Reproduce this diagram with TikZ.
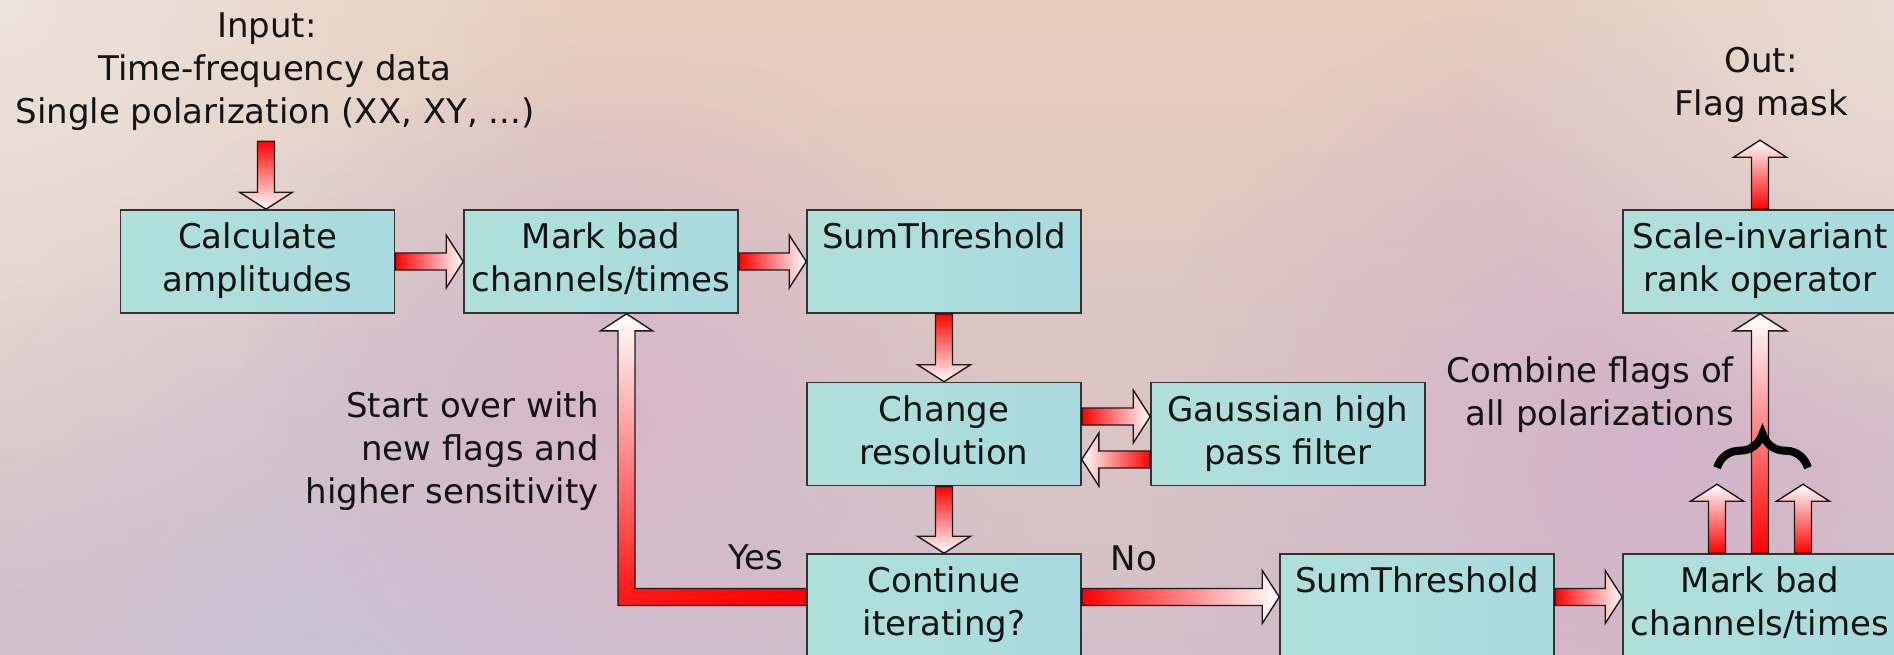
\documentclass[tikz,border=0pt]{standalone}
\usepackage{fontspec}
\setmainfont{DejaVu Sans}
\usetikzlibrary{calc,decorations.pathreplacing,fadings}

\definecolor{bgTop}{HTML}{E8CEBC}
\definecolor{bgBot}{HTML}{D3BFC8}
\definecolor{bgLight}{HTML}{ECE3DC}
\definecolor{bgLav}{HTML}{C9C3D9}
\definecolor{bgMauve}{HTML}{D3B3CA}
\definecolor{bgMauveB}{HTML}{D8B7C7}
\definecolor{bgLightB}{HTML}{EADCD2}
\definecolor{boxL}{HTML}{AFE0DA}
\definecolor{boxR}{HTML}{A9DBE0}
\definecolor{boxline}{HTML}{333333}
\definecolor{arrline}{HTML}{1A1A1A}
\definecolor{ink}{HTML}{141414}
\colorlet{redcorner}{red!90!white}

\tikzfading[name=blobfade, inner color=transparent!0, outer color=transparent!100]

\newcommand\fatarrow[2]{%
  \path let \p1=(#1), \p2=(#2) in
    \pgfextra{\pgfmathsetmacro\faang{atan2(\y2-\y1,\x2-\x1)-90}\global\let\faang\faang};
  \coordinate (fa-h) at ($(#2)!17pt!(#1)$);
  \shade[fatshape, shading angle=\faang]
    ($(#1)!8.5pt!90:(#2)$) -- ($(fa-h)!8.5pt!90:(#2)$) -- ($(fa-h)!26.5pt!90:(#2)$) -- (#2)
    -- ($(fa-h)!26.5pt!-90:(#2)$) -- ($(fa-h)!8.5pt!-90:(#2)$) -- ($(#1)!8.5pt!-90:(#2)$) -- cycle;
}

\begin{document}
\begin{tikzpicture}[x=1pt,y=1pt,
  font=\fontsize{34}{43}\selectfont,
  box/.style={draw=boxline, line width=1.6pt, left color=boxL, right color=boxR,
    minimum width=274pt, minimum height=103pt, inner sep=0pt, align=center, text=ink},
  lbl/.style={text=ink, inner sep=0pt},
  fatshape/.style={draw=arrline, line width=1.4pt, line join=miter, top color=white, bottom color=red}]

\useasboundingbox (0,0) rectangle (1894,-654);
\clip (0,0) rectangle (1894,-654);

% background
\shade[top color=bgTop, bottom color=bgBot] (0,0) rectangle (1894,-654);
\fill[bgLight, path fading=blobfade] (0,0) circle (600);
\fill[bgLav, path fading=blobfade] (450,-700) circle (600);
\fill[bgMauve, path fading=blobfade] (1650,-450) circle (500);
\fill[bgMauveB, path fading=blobfade] (620,-420) circle (380);
\fill[bgLightB, path fading=blobfade] (1900,-20) circle (450);

% boxes
\node[box] (calc)  at (257.5,-261.5) {\strut Calculate\\\strut amplitudes};
\node[box] (mark1) at (601,-261.5)   {\strut Mark bad\\\strut channels/times};
\node[box] (sum1)  at (944,-261.5)   {\strut SumThreshold\\\strut};
\node[box] (chres) at (944,-434)     {\strut Change\\\strut resolution};
\node[box] (gauss) at (1288,-434)    {\strut Gaussian high\\\strut pass filter};
\node[box] (cont)  at (944,-605.5)   {\strut Continue\\\strut iterating?};
\node[box] (sum2)  at (1417,-605.5)  {\strut SumThreshold\\\strut};
\node[box] (mark2) at (1760,-605.5)  {\strut Mark bad\\\strut channels/times};
\node[box] (sir)   at (1760,-261.5)  {\strut Scale-invariant\\\strut rank operator};

% texts
\node[lbl, align=center] (intext) at (275,-71.4)
  {\strut Input:\hspace*{16pt}\\\strut Time-frequency data\\\strut Single polarization (XX, XY, ...)};
\node[lbl, align=center] (outtext) at (1761,-85) {\strut Out:\\\strut Flag mask};
\node[lbl, align=right, anchor=east] (restart) at (599,-451.4)
  {\strut Start over with\\\strut new flags and\\\strut higher sensitivity};
\node[lbl, align=right, anchor=east] (combine) at (1734,-395)
  {\strut Combine flags of\\\strut all polarizations};
\node[lbl, anchor=base] (yes) at (755.5,-569) {Yes};
\node[lbl, anchor=base] (no) at (1134,-570) {No};

% helper coordinates
\coordinate (intail) at ($(calc.north)+(8.5,68)$);
\coordinate (inhead) at ($(calc.north)+(8.5,0)$);
\coordinate (g1a) at ($(chres.east)+(0,17.5)$);
\coordinate (g1b) at ($(gauss.west)+(0,17.5)$);
\coordinate (g2a) at ($(gauss.west)+(0,-25.5)$);
\coordinate (g2b) at ($(chres.east)+(0,-25.5)$);
\coordinate (noa) at ($(cont.east)+(0,8.5)$);
\coordinate (nob) at ($(sum2.west)+(0,8.5)$);
\coordinate (s2a) at ($(sum2.east)+(0,8.5)$);
\coordinate (s2b) at ($(mark2.west)+(0,8.5)$);
\coordinate (pla) at ($(mark2.north)+(-43,0)$);
\coordinate (plb) at ($(mark2.north)+(-43,69)$);
\coordinate (pra) at ($(mark2.north)+(43,0)$);
\coordinate (prb) at ($(mark2.north)+(43,69)$);
\coordinate (outtip) at ($(sir.north)+(0,69)$);

% straight arrows
\fatarrow{intail}{inhead}
\fatarrow{calc.east}{mark1.west}
\fatarrow{mark1.east}{sum1.west}
\fatarrow{sum1.south}{chres.north}
\fatarrow{g1a}{g1b}
\fatarrow{g2a}{g2b}
\fatarrow{chres.south}{cont.north}
\fatarrow{noa}{nob}
\fatarrow{s2a}{s2b}
\fatarrow{pla}{plb}
\fatarrow{pra}{prb}
\fatarrow{mark2.north}{sir.south}
\fatarrow{sir.north}{outtip}

% Yes elbow arrow
\coordinate (yestail) at ($(cont.west)+(0,8.5)$);
\coordinate (yestip) at ($(mark1.south)+(25.5,0)$);
\coordinate (yescorner) at (yestip |- yestail);
\begin{scope}
  \clip ($(yestail)+(0,8.5)$) -- ($(yescorner)+(8.5,8.5)$) -- ($(yestip)+(8.5,-17)$)
    -- ($(yestip)+(26,-17)$) -- (yestip) -- ($(yestip)+(-26,-17)$) -- ($(yestip)+(-8.5,-17)$)
    -- ($(yescorner)+(-8.5,-8.5)$) -- ($(yestail)+(0,-8.5)$) -- cycle;
  \shade[left color=redcorner, right color=red] ($(yescorner)+(-8.5,-8.5)$) rectangle ($(yestail)+(0,8.5)$);
  \shade[top color=white, bottom color=redcorner] ($(yescorner)+(-26,8.5)$) rectangle ($(yestip)+(26,0)$);
\end{scope}
\draw[arrline, line width=1.4pt, line join=miter]
  ($(yestail)+(0,8.5)$) -- ($(yescorner)+(8.5,8.5)$) -- ($(yestip)+(8.5,-17)$)
    -- ($(yestip)+(26,-17)$) -- (yestip) -- ($(yestip)+(-26,-17)$) -- ($(yestip)+(-8.5,-17)$)
    -- ($(yescorner)+(-8.5,-8.5)$) -- ($(yestail)+(0,-8.5)$);

% brace
\coordinate (brl) at ($(mark2.north)+(-43,85.5)$);
\coordinate (brr) at ($(mark2.north)+(48,85.5)$);
\draw[decorate, decoration={brace, amplitude=34pt}, line width=8pt, black] (brl) -- (brr);

\end{tikzpicture}
\end{document}
